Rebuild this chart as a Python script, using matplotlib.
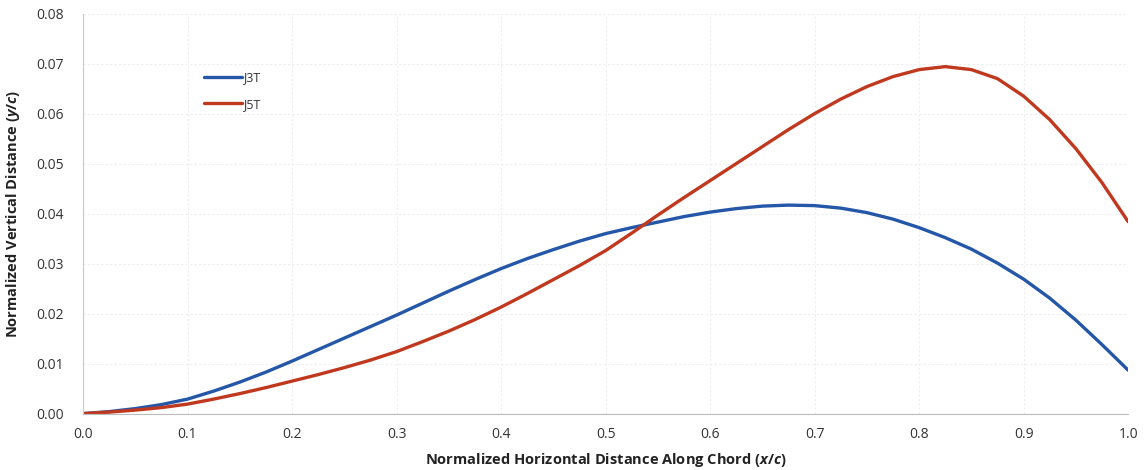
import numpy as np
import matplotlib
matplotlib.use('Agg')
import matplotlib.pyplot as plt
import matplotlib.ticker as ticker

plt.rcParams['font.family'] = ['Open Sans', 'DejaVu Sans']
plt.rcParams['mathtext.fontset'] = 'custom'
plt.rcParams['mathtext.it'] = 'Open Sans:italic:bold'
plt.rcParams['mathtext.rm'] = 'Open Sans:bold'

# values, x/c every 0.025
x_c = [0.0, 0.025, 0.05, 0.075, 0.1, 0.125, 0.15, 0.175, 0.2, 0.225, 0.25, 0.275, 0.3,
       0.325, 0.35, 0.375, 0.4, 0.425, 0.45, 0.475, 0.5, 0.525, 0.55, 0.575, 0.6, 0.625,
       0.65, 0.675, 0.7, 0.725, 0.75, 0.775, 0.8, 0.825, 0.85, 0.875, 0.9, 0.925, 0.95,
       0.975, 1.0]
y_j3t = [0.0, 0.0004, 0.0010, 0.0018, 0.0029, 0.0045, 0.0063, 0.0083, 0.0105, 0.0128,
         0.0151, 0.0174, 0.0197, 0.0221, 0.0245, 0.0268, 0.0290, 0.0310, 0.0328, 0.0345,
         0.0360, 0.0372, 0.0383, 0.0394, 0.0403, 0.0410, 0.0415, 0.0417, 0.0416, 0.0411,
         0.0402, 0.0389, 0.0372, 0.0352, 0.0329, 0.0301, 0.0269, 0.0231, 0.0187, 0.0138,
         0.0087]
y_j5t = [0.0, 0.0003, 0.0007, 0.0012, 0.0019, 0.0029, 0.0040, 0.0052, 0.0065, 0.0078,
         0.0092, 0.0107, 0.0124, 0.0144, 0.0165, 0.0188, 0.0213, 0.0240, 0.0268, 0.0296,
         0.0326, 0.0361, 0.0397, 0.0432, 0.0466, 0.0500, 0.0534, 0.0568, 0.0600, 0.0629,
         0.0654, 0.0674, 0.0688, 0.0694, 0.0688, 0.0670, 0.0635, 0.0588, 0.0530, 0.0462,
         0.0384]

x_ticks = [0.0, 0.1, 0.2, 0.3, 0.4, 0.5, 0.6, 0.7, 0.8, 0.9, 1.0]
y_ticks = [0.0, 0.01, 0.02, 0.03, 0.04, 0.05, 0.06, 0.07, 0.08]

fig = plt.figure(figsize=(11.44, 4.70), dpi=100)
ax = fig.add_axes([0.0726, 0.120, 0.9135, 0.851])

ax.plot(x_c, y_j3t, color='#2457a8', lw=2.4, label='J3T', solid_capstyle='round')
ax.plot(x_c, y_j5t, color='#c0391f', lw=2.4, label='J5T', solid_capstyle='round')

ax.set_xlim(0, 1.0)
ax.set_ylim(0, 0.08)
ax.set_xticks(x_ticks)
ax.set_yticks(y_ticks)
ax.xaxis.set_major_formatter(ticker.StrMethodFormatter('{x:.1f}'))
ax.yaxis.set_major_formatter(ticker.StrMethodFormatter('{x:.2f}'))
ax.tick_params(length=0, labelsize=10, colors='#333333', pad=10)
ax.tick_params(axis='y', pad=14)

ax.grid(True, color='#eeeeee', lw=0.8, ls=(0, (2, 2)))
ax.set_axisbelow(True)
for s in ['top', 'right']:
    ax.spines[s].set_visible(False)
ax.spines['left'].set_color('#c8c8d8')
ax.spines['bottom'].set_color('#bbbbbb')

ax.set_xlabel(r'Normalized Horizontal Distance Along Chord ($x/c$)', fontsize=10.5,
              fontweight='bold', color='#222222', labelpad=6)
ax.set_ylabel(r'Normalized Vertical Distance ($y/c$)', fontsize=10.5,
              fontweight='bold', color='#222222', labelpad=10)

leg = ax.legend(loc='upper left', bbox_to_anchor=(0.105, 0.885), frameon=False,
                handlelength=3.0, handletextpad=0.1, labelspacing=1.1, fontsize=9)
for t in leg.get_texts():
    t.set_color('#333333')

fig.savefig('out.png', dpi=100)
